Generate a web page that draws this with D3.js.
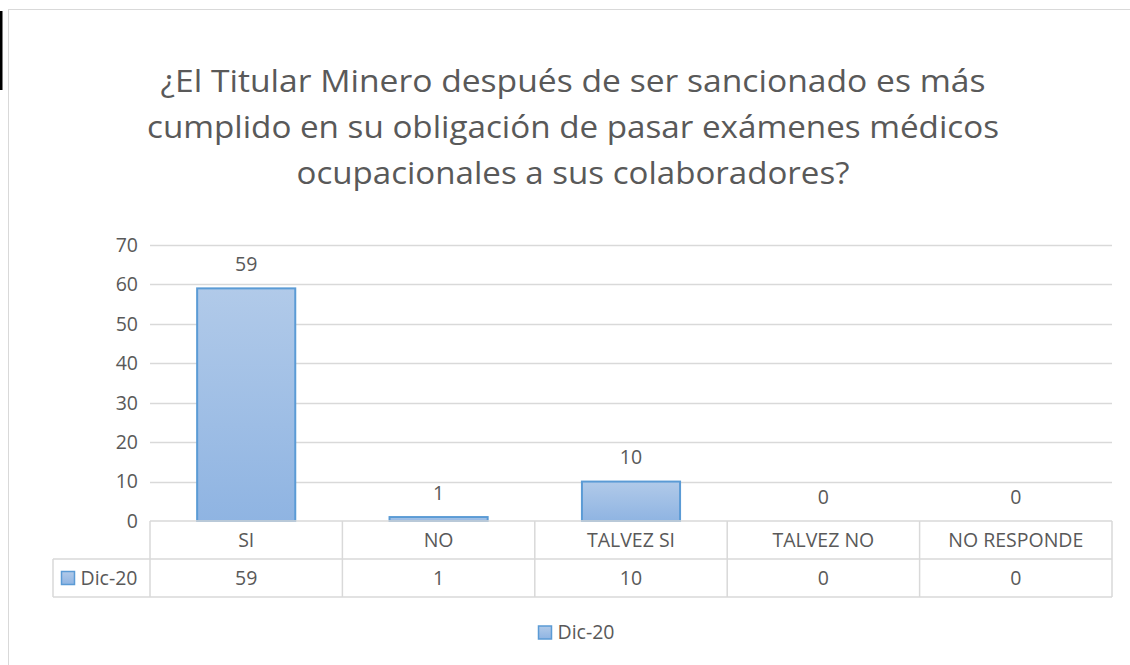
<!DOCTYPE html>
<html>
<head>
<meta charset="utf-8">
<script src="https://cdn.jsdelivr.net/npm/d3@7"></script>
<style>
  body { margin: 0; background: #fff; }
  text { font-family: "Open Sans", sans-serif; fill: #595959; }
</style>
</head>
<body>
<svg width="1130" height="665"></svg>
<script>
const categories = ["SI", "NO", "TALVEZ SI", "TALVEZ NO", "NO RESPONDE"];
const values = [59, 1, 10, 0, 0];
const seriesName = "Dic-20";
const yTicks = [0, 10, 20, 30, 40, 50, 60, 70];
const titleLines = [
  "¿El Titular Minero después de ser sancionado es más",
  "cumplido en su obligación de pasar exámenes médicos",
  "ocupacionales a sus colaboradores?"
];

const W = 1130, H = 665;
const plotL = 150, plotR = 1112, plotT = 245, plotB = 521;
const rowH = 38;
const grid = "#d9d9d9";
const fs = 19.5;

const svg = d3.select("svg");

// gradient for bars
const defs = svg.append("defs");
const grad = defs.append("linearGradient")
    .attr("id", "barGrad")
    .attr("x1", 0).attr("y1", 0).attr("x2", 0).attr("y2", 1);
grad.append("stop").attr("offset", "0%").attr("stop-color", "#b1cae9");
grad.append("stop").attr("offset", "100%").attr("stop-color", "#8fb4e2");

svg.append("rect").attr("width", W).attr("height", H).attr("fill", "#fff");

// stray black mark on the left edge
svg.append("rect").attr("x", 0).attr("y", 11).attr("width", 2.5).attr("height", 79).attr("fill", "#000");

// chart area border
svg.append("rect")
    .attr("x", 8.5).attr("y", 9.5)
    .attr("width", 1140).attr("height", 700)
    .attr("fill", "none").attr("stroke", grid);

// title
const title = svg.append("g");
const titleW = [825, 852, 553];
titleLines.forEach((t, i) => {
  title.append("text")
      .attr("x", 573).attr("y", 92 + i * 46)
      .attr("text-anchor", "middle")
      .attr("font-size", 31)
      .attr("textLength", titleW[i])
      .attr("lengthAdjust", "spacingAndGlyphs")
      .text(t);
});

const x = d3.scaleBand().domain(categories).range([plotL, plotR])
    .paddingInner(0.49).paddingOuter(0.245);
const y = d3.scaleLinear().domain([0, 70]).range([plotB, plotT]);
const step = x.step();

// gridlines
svg.append("g").selectAll("line").data(yTicks.filter(d => d > 0)).join("line")
    .attr("x1", plotL).attr("x2", plotR)
    .attr("y1", d => Math.round(y(d)) + 0.5).attr("y2", d => Math.round(y(d)) + 0.5)
    .attr("stroke", grid).attr("stroke-width", 1.3);

// y tick labels
svg.append("g").selectAll("text").data(yTicks).join("text")
    .attr("x", 138).attr("y", d => y(d))
    .attr("dy", "0.35em")
    .attr("text-anchor", "end")
    .attr("font-size", fs)
    .text(d => d);

// bars
svg.append("g").selectAll("rect").data(values).join("rect")
    .attr("x", (d, i) => x(categories[i]))
    .attr("y", d => y(d))
    .attr("width", x.bandwidth())
    .attr("height", d => plotB - y(d))
    .attr("fill", "url(#barGrad)")
    .attr("stroke", "#5b9bd5").attr("stroke-width", 2)
    .attr("display", d => d > 0 ? null : "none");

// data labels
svg.append("g").selectAll("text").data(values).join("text")
    .attr("x", (d, i) => x(categories[i]) + x.bandwidth() / 2)
    .attr("y", d => y(d) - 24)
    .attr("dy", "0.35em")
    .attr("text-anchor", "middle")
    .attr("font-size", fs)
    .text(d => d);

// data table
const tbl = svg.append("g").attr("stroke", grid).attr("stroke-width", 1.5).attr("fill", "none");
const legL = 53;
tbl.append("line").attr("x1", plotL).attr("x2", plotR).attr("y1", plotB).attr("y2", plotB);
tbl.append("line").attr("x1", legL).attr("x2", plotR).attr("y1", plotB + rowH).attr("y2", plotB + rowH);
tbl.append("line").attr("x1", legL).attr("x2", plotR).attr("y1", plotB + 2 * rowH).attr("y2", plotB + 2 * rowH);
tbl.append("line").attr("x1", legL).attr("x2", legL).attr("y1", plotB + rowH).attr("y2", plotB + 2 * rowH);
d3.range(categories.length + 1).forEach(i => {
  const xx = plotL + i * step;
  tbl.append("line").attr("x1", xx).attr("x2", xx).attr("y1", plotB).attr("y2", plotB + 2 * rowH);
});

svg.append("g").selectAll("text").data(categories).join("text")
    .attr("x", d => x(d) + x.bandwidth() / 2)
    .attr("y", plotB + rowH / 2)
    .attr("dy", "0.35em")
    .attr("text-anchor", "middle")
    .attr("font-size", fs)
    .text(d => d);

svg.append("g").selectAll("text").data(values).join("text")
    .attr("x", (d, i) => x(categories[i]) + x.bandwidth() / 2)
    .attr("y", plotB + rowH * 1.5)
    .attr("dy", "0.35em")
    .attr("text-anchor", "middle")
    .attr("font-size", fs)
    .text(d => d);

function legendKey(g, kx, ky) {
  g.append("rect")
      .attr("x", kx).attr("y", ky).attr("width", 13).attr("height", 13)
      .attr("fill", "url(#barGrad)").attr("stroke", "#5b9bd5").attr("stroke-width", 1.5);
  g.append("text")
      .attr("x", kx + 19).attr("y", ky + 6.5)
      .attr("dy", "0.35em")
      .attr("font-size", fs)
      .text(seriesName);
}

legendKey(svg.append("g"), 61.5, plotB + rowH * 1.5 - 6.5);
legendKey(svg.append("g"), 538.5, 626);
</script>
</body>
</html>
